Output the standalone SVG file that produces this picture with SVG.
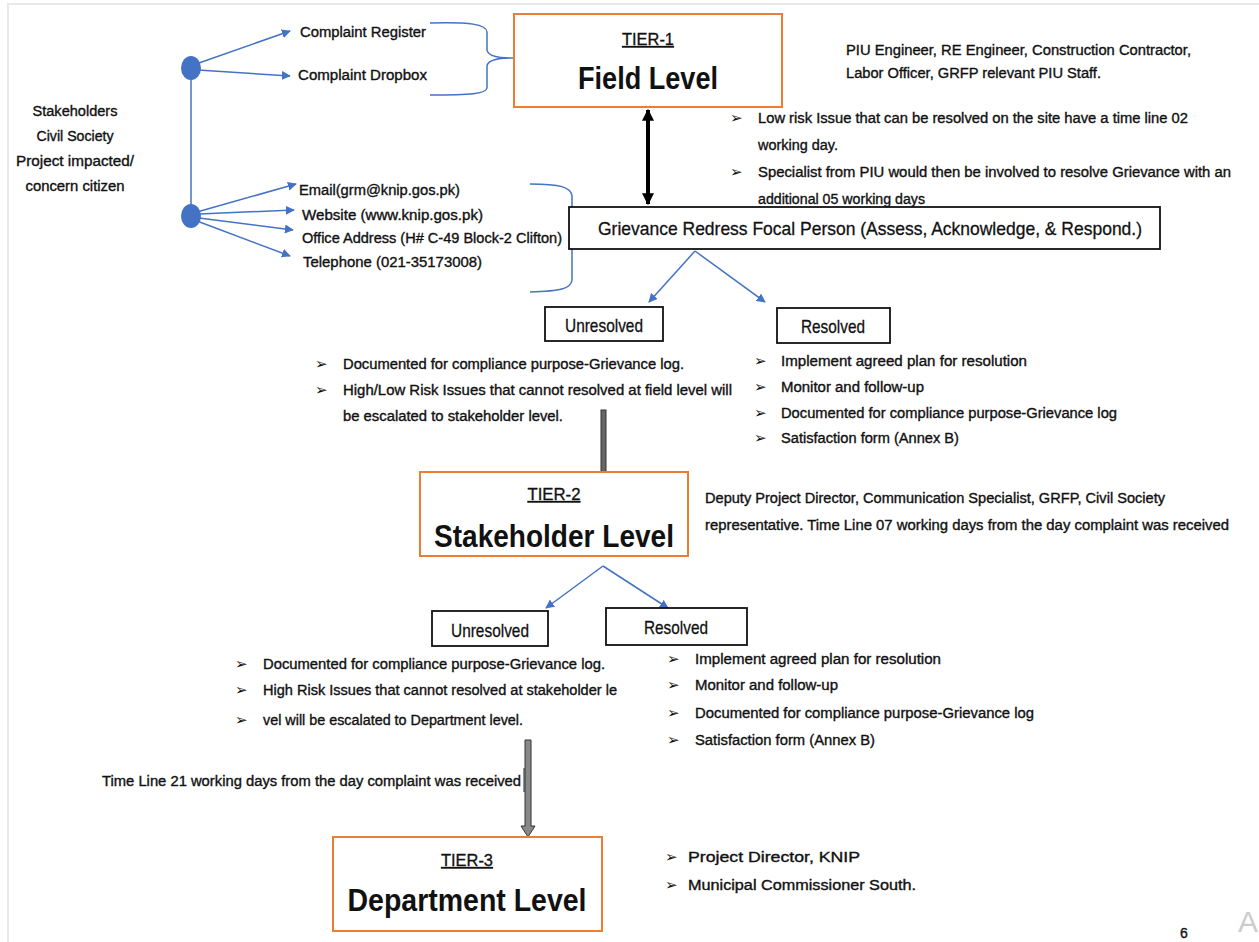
<svg xmlns="http://www.w3.org/2000/svg" width="1259" height="942" viewBox="0 0 1259 942">
<style>
.t{font-family:"Liberation Sans",Arial,sans-serif;font-size:14px;fill:#111;stroke:#111;stroke-width:0.35;}
.m{font-family:"Liberation Sans",Arial,sans-serif;font-size:19px;fill:#111;stroke:#111;stroke-width:0.3;}
.tier{font-family:"Liberation Sans",Arial,sans-serif;font-size:16px;fill:#111;stroke:#111;stroke-width:0.3;text-anchor:middle;text-decoration:underline;}
.big{font-family:"Liberation Sans",Arial,sans-serif;font-size:31px;font-weight:bold;fill:#111;text-anchor:middle;}
.b{font-family:"DejaVu Sans",sans-serif;font-size:15px;font-weight:bold;fill:#111;}
.ob{fill:#fff;stroke:#ED7D31;stroke-width:2;}
.kb{fill:#fff;stroke:#111;stroke-width:1.8;}
.bl{stroke:#4472C4;stroke-width:1.5;fill:none;}
.brace{stroke:#4472C4;stroke-width:1.5;fill:none;}
</style>
<defs>
<marker id="ab" viewBox="0 0 10 10" refX="9" refY="5" markerWidth="9" markerHeight="9" markerUnits="userSpaceOnUse" orient="auto"><path d="M0,0 L10,5 L0,10 z" fill="#4472C4"/></marker>
<marker id="ak" viewBox="0 0 10 10" refX="9" refY="5" markerWidth="3" markerHeight="3" orient="auto-start-reverse"><path d="M0,0 L10,5 L0,10 z" fill="#000"/></marker>
</defs>
<rect x="0" y="0" width="1259" height="942" fill="#fff"/>
<path d="M8,942 V4 H1259" fill="none" stroke="#e8e8e8" stroke-width="2"/>

<g id="connectors">
<line x1="191" y1="68" x2="191" y2="216" class="bl"/>
<line x1="196" y1="64" x2="290" y2="31" class="bl" marker-end="url(#ab)"/>
<line x1="198" y1="70" x2="290" y2="76" class="bl" marker-end="url(#ab)"/>
<line x1="197" y1="212" x2="296" y2="184" class="bl" marker-end="url(#ab)"/>
<line x1="199" y1="214" x2="294" y2="210" class="bl" marker-end="url(#ab)"/>
<line x1="199" y1="218" x2="293" y2="230" class="bl" marker-end="url(#ab)"/>
<line x1="197" y1="221" x2="290" y2="256" class="bl" marker-end="url(#ab)"/>
<path class="brace" d="M430,23 C470,22 486,24 487,32 L487,50 C488,57 500,58 513,58 C500,58 488,59 487,66 L487,88 C486,94 470,95 430,95"/>
<path class="brace" d="M530,184 C560,184 571,187 572,196 L572,226 C573,234 585,236 600,236 C585,236 573,238 572,246 L572,280 C571,289 560,291 530,292"/>
<line x1="648" y1="110" x2="648" y2="204" stroke="#000" stroke-width="4" marker-start="url(#ak)" marker-end="url(#ak)"/>
<line x1="695" y1="251" x2="649" y2="302" class="bl" marker-end="url(#ab)"/>
<line x1="695" y1="251" x2="765" y2="302" class="bl" marker-end="url(#ab)"/>
<rect x="601" y="410" width="5" height="62" fill="#666" stroke="#333" stroke-width="1"/>
<line x1="603" y1="566" x2="546" y2="608" class="bl" marker-end="url(#ab)"/>
<line x1="603" y1="566" x2="668" y2="608" class="bl" marker-end="url(#ab)"/>
<path d="M525,740 H531 V826 H535 L528,837 L521,826 H525 Z" fill="#888" stroke="#333" stroke-width="1"/>
<line x1="524" y1="768" x2="524" y2="792" stroke="#222" stroke-width="1"/>
</g>

<g id="sources">
<ellipse cx="191" cy="68" rx="10" ry="12" fill="#4472C4"/>
<ellipse cx="191" cy="216" rx="10" ry="12" fill="#4472C4"/>
<text class="t" text-anchor="middle" x="75" y="116" textLength="85" lengthAdjust="spacingAndGlyphs">Stakeholders</text>
<text class="t" text-anchor="middle" x="75" y="141" textLength="77" lengthAdjust="spacingAndGlyphs">Civil Society</text>
<text class="t" text-anchor="middle" x="75" y="166" textLength="118" lengthAdjust="spacingAndGlyphs">Project impacted/</text>
<text class="t" text-anchor="middle" x="75" y="191" textLength="99" lengthAdjust="spacingAndGlyphs">concern citizen</text>
<text class="t" x="300" y="37" textLength="126" lengthAdjust="spacingAndGlyphs">Complaint Register</text>
<text class="t" x="298" y="80" textLength="129" lengthAdjust="spacingAndGlyphs">Complaint Dropbox</text>
<text class="t" x="299" y="195" textLength="161" lengthAdjust="spacingAndGlyphs">Email(grm@knip.gos.pk)</text>
<text class="t" x="302" y="220" textLength="181" lengthAdjust="spacingAndGlyphs">Website (www.knip.gos.pk)</text>
<text class="t" x="302" y="243" textLength="260" lengthAdjust="spacingAndGlyphs">Office Address (H# C-49 Block-2 Clifton)</text>
<text class="t" x="303" y="267" textLength="179" lengthAdjust="spacingAndGlyphs">Telephone (021-35173008)</text>
</g>

<g id="tier1">
<rect class="ob" x="514" y="14" width="268" height="93"/>
<text class="tier" x="648" y="45" textLength="52" lengthAdjust="spacingAndGlyphs">TIER-1</text>
<text class="big" x="648" y="89" textLength="140" lengthAdjust="spacingAndGlyphs">Field Level</text>
</g>
<g id="tier1-notes">
<text class="t" x="846" y="55" textLength="345" lengthAdjust="spacingAndGlyphs">PIU Engineer, RE Engineer, Construction Contractor,</text>
<text class="t" x="846" y="78" textLength="255" lengthAdjust="spacingAndGlyphs">Labor Officer, GRFP relevant PIU Staff.</text>
<text class="b" x="730" y="123">➢</text>
<text class="t" x="758" y="123" textLength="430" lengthAdjust="spacingAndGlyphs">Low risk Issue that can be resolved on the site have a time line 02</text>
<text class="t" x="758" y="150" textLength="80" lengthAdjust="spacingAndGlyphs">working day.</text>
<text class="b" x="730" y="177">➢</text>
<text class="t" x="758" y="177" textLength="473" lengthAdjust="spacingAndGlyphs">Specialist from PIU would then be involved to resolve Grievance with an</text>
<text class="t" x="758" y="204" textLength="167" lengthAdjust="spacingAndGlyphs">additional 05 working days</text>
</g>

<g id="focal">
<rect class="kb" x="569" y="207" width="591" height="42"/>
<text class="m" x="870" y="235" text-anchor="middle" textLength="544" lengthAdjust="spacingAndGlyphs">Grievance Redress Focal Person (Assess, Acknowledge, &amp; Respond.)</text>
</g>

<g id="unresolved1">
<rect class="kb" x="545" y="307" width="118" height="34"/>
<text class="m" x="604" y="332" text-anchor="middle" textLength="78" lengthAdjust="spacingAndGlyphs">Unresolved</text>
<text class="b" x="315" y="369">➢</text>
<text class="t" x="343" y="369" textLength="341" lengthAdjust="spacingAndGlyphs">Documented for compliance purpose-Grievance log.</text>
<text class="b" x="315" y="395">➢</text>
<text class="t" x="343" y="395" textLength="389" lengthAdjust="spacingAndGlyphs">High/Low Risk Issues that cannot resolved at field level will</text>
<text class="t" x="343" y="421" textLength="220" lengthAdjust="spacingAndGlyphs">be escalated to stakeholder level.</text>
</g>

<g id="resolved1">
<rect class="kb" x="777" y="308" width="113" height="35"/>
<text class="m" x="833" y="333" text-anchor="middle" textLength="64" lengthAdjust="spacingAndGlyphs">Resolved</text>
<text class="b" x="754" y="366">➢</text>
<text class="t" x="781" y="366" textLength="246" lengthAdjust="spacingAndGlyphs">Implement agreed plan for resolution</text>
<text class="b" x="754" y="392">➢</text>
<text class="t" x="781" y="392" textLength="143" lengthAdjust="spacingAndGlyphs">Monitor and follow-up</text>
<text class="b" x="754" y="418">➢</text>
<text class="t" x="781" y="418" textLength="336" lengthAdjust="spacingAndGlyphs">Documented for compliance purpose-Grievance log</text>
<text class="b" x="754" y="443">➢</text>
<text class="t" x="781" y="443" textLength="178" lengthAdjust="spacingAndGlyphs">Satisfaction form (Annex B)</text>
</g>

<g id="tier2">
<rect class="ob" x="420" y="472" width="268" height="84"/>
<text class="tier" x="554" y="500" textLength="53" lengthAdjust="spacingAndGlyphs">TIER-2</text>
<text class="big" x="554" y="547" textLength="240" lengthAdjust="spacingAndGlyphs">Stakeholder Level</text>
</g>
<g id="tier2-notes">
<text class="t" x="705" y="503" textLength="460" lengthAdjust="spacingAndGlyphs">Deputy Project Director, Communication Specialist, GRFP, Civil Society</text>
<text class="t" x="705" y="530" textLength="524" lengthAdjust="spacingAndGlyphs">representative. Time Line 07 working days from the day complaint was received</text>
</g>

<g id="unresolved2">
<rect class="kb" x="432" y="611" width="116" height="35"/>
<text class="m" x="490" y="637" text-anchor="middle" textLength="78" lengthAdjust="spacingAndGlyphs">Unresolved</text>
<text class="b" x="235" y="669">➢</text>
<text class="t" x="263" y="669" textLength="342" lengthAdjust="spacingAndGlyphs">Documented for compliance purpose-Grievance log.</text>
<text class="b" x="235" y="695">➢</text>
<text class="t" x="263" y="695" textLength="354" lengthAdjust="spacingAndGlyphs">High Risk Issues that cannot resolved at stakeholder le</text>
<text class="b" x="235" y="725">➢</text>
<text class="t" x="263" y="725" textLength="260" lengthAdjust="spacingAndGlyphs">vel will be escalated to Department level.</text>
</g>

<g id="resolved2">
<rect class="kb" x="606" y="608" width="141" height="37"/>
<text class="m" x="676" y="634" text-anchor="middle" textLength="64" lengthAdjust="spacingAndGlyphs">Resolved</text>
<text class="b" x="667" y="664">➢</text>
<text class="t" x="695" y="664" textLength="246" lengthAdjust="spacingAndGlyphs">Implement agreed plan for resolution</text>
<text class="b" x="667" y="690">➢</text>
<text class="t" x="695" y="690" textLength="143" lengthAdjust="spacingAndGlyphs">Monitor and follow-up</text>
<text class="b" x="667" y="718">➢</text>
<text class="t" x="695" y="718" textLength="339" lengthAdjust="spacingAndGlyphs">Documented for compliance purpose-Grievance log</text>
<text class="b" x="667" y="745">➢</text>
<text class="t" x="695" y="745" textLength="180" lengthAdjust="spacingAndGlyphs">Satisfaction form (Annex B)</text>
</g>

<g id="timeline21">
<text class="t" x="102" y="786" textLength="419" lengthAdjust="spacingAndGlyphs">Time Line 21 working days from the day complaint was received</text>
</g>

<g id="tier3">
<rect class="ob" x="333" y="837" width="269" height="94"/>
<text class="tier" x="467" y="866" textLength="52" lengthAdjust="spacingAndGlyphs">TIER-3</text>
<text class="big" x="467" y="911" textLength="239" lengthAdjust="spacingAndGlyphs">Department Level</text>
</g>
<g id="tier3-notes">
<text class="b" x="665" y="862">➢</text>
<text class="t" x="688" y="862" textLength="172" lengthAdjust="spacingAndGlyphs">Project Director, KNIP</text>
<text class="b" x="665" y="890">➢</text>
<text class="t" x="688" y="890" textLength="228" lengthAdjust="spacingAndGlyphs">Municipal Commissioner South.</text>
</g>

<text class="t" x="1180" y="938">6</text>
<text x="1238" y="932" font-family="Liberation Sans, Arial, sans-serif" font-size="30" fill="#cccccc">A</text>
</svg>
